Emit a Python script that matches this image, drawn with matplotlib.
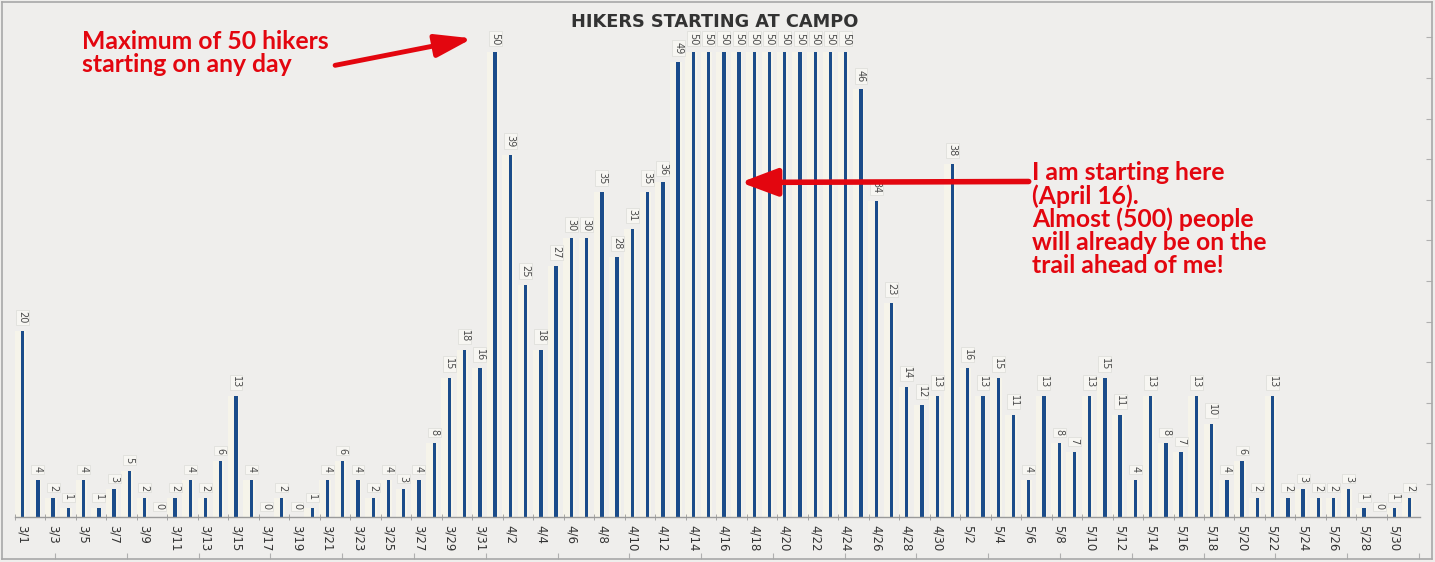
import matplotlib.pyplot as plt
import numpy as np

# Daily hiker starts at Campo, 3/1 .. 5/31
march = [20, 4, 2, 1, 4, 1, 3, 5, 2, 0, 2, 4, 2, 6, 13, 4, 0, 2, 0, 1,
         4, 6, 4, 2, 4, 3, 4, 8, 15, 18, 16]
april = [50, 39, 25, 18, 27, 30, 30, 35, 28, 31, 35, 36, 49, 50, 50, 50,
         50, 50, 50, 50, 50, 50, 50, 50, 46, 34, 23, 14, 12, 13]
may = [38, 16, 13, 15, 11, 4, 13, 8, 7, 13, 15, 11, 4, 13, 8, 7, 13, 10,
       4, 6, 2, 13, 2, 3, 2, 2, 3, 1, 0, 1, 2]

dates = ([f"3/{d}" for d in range(1, 32)] +
         [f"4/{d}" for d in range(1, 31)] +
         [f"5/{d}" for d in range(1, 32)])
hikers = march + april + may

title = "HIKERS STARTING AT CAMPO"
note_max = "Maximum of 50 hikers\nstarting on any day"
note_me = ("I am starting here\n(April 16).\nAlmost (500) people\n"
           "will already be on the\ntrail ahead of me!")

bg = "#efeeec"
bar_col = "#1b4c8a"
red = "#e3060f"

fig = plt.figure(figsize=(14.35, 5.62), dpi=100, facecolor=bg)

# outer frame with its little ticks
fr = fig.add_axes([0.0015, 0.005, 0.9965, 0.992])
fr.set_facecolor(bg)
fr.set_xlim(0, 1)
fr.set_ylim(0, 1)
for s in fr.spines.values():
    s.set_color("#a8a8a8")
    s.set_linewidth(1.2)
fr.set_xticks(np.arange(0.037, 1, 0.0502))
fr.set_yticks(np.arange(0.135, 1, 0.0728))
fr.tick_params(axis="x", direction="in", length=4, color="#b0b0b0",
               labelbottom=False)
fr.tick_params(axis="y", direction="in", length=4, color="#b0b0b0",
               left=False, right=True, labelleft=False)

ax = fig.add_axes([15 / 1435, 45 / 562, 1405 / 1435, 500 / 562])
ax.patch.set_alpha(0)
x = np.arange(len(hikers))

# pale halo behind each bar, then the bar itself
ax.bar(x - 0.15, hikers, width=0.75, color="#f6f4ea", zorder=1)
ax.bar(x, hikers, width=0.22, color=bar_col, zorder=2)

for xi, v in zip(x, hikers):
    ax.text(xi, v + 0.8, str(v), rotation=270, ha="center", va="bottom",
            fontsize=7, color="#4a4a4a", zorder=3,
            bbox=dict(boxstyle="square,pad=0.15", fc="#f7f6f2",
                      ec="#dcdcd8", lw=0.5))

ax.set_xlim(-0.46, 91.67)
ax.set_ylim(0, 53.8)
ax.set_yticks([])
for s in ["top", "right", "left"]:
    ax.spines[s].set_visible(False)
ax.spines["bottom"].set_color("#9a9a9a")
ax.spines["bottom"].set_linewidth(1)

ax.set_xticks(x[::2])
ax.set_xticklabels(dates[::2], rotation=270, fontsize=8.5, color="#333333")
ax.set_xticks(x[::2] - 0.5, minor=True)
ax.tick_params(axis="x", which="major", length=0, pad=6)
ax.tick_params(axis="x", which="minor", length=4, color="#9a9a9a",
               direction="inout")

fig.text(715 / 1435, 1 - 22 / 562, title, ha="center", va="center",
         fontsize=12.8, fontweight="bold", color="#333333",
         family="DejaVu Sans")

# red notes
ax.text(3.9, 52.4, note_max, ha="left", va="top", fontsize=17.8,
        fontweight="bold", color=red, family="Lato", linespacing=1.0,
        zorder=5)
ax.annotate("", xy=(29.5, 51.5), xytext=(20.5, 48.6),
            arrowprops=dict(arrowstyle="-|>,head_length=1.6,head_width=0.5",
                            lw=3.5, color=red, mutation_scale=14,
                            shrinkA=0, shrinkB=0), zorder=5)

ax.text(66.2, 38.3, note_me, ha="left", va="top", fontsize=17.8,
        fontweight="bold", color=red, family="Lato", linespacing=1.0,
        zorder=5)
ax.annotate("", xy=(47.1, 36.0), xytext=(66.0, 36.1),
            arrowprops=dict(arrowstyle="-|>,head_length=1.6,head_width=0.6",
                            lw=4, color=red, mutation_scale=14,
                            shrinkA=0, shrinkB=0), zorder=5)

fig.savefig("out.png", dpi=100, facecolor=bg)
